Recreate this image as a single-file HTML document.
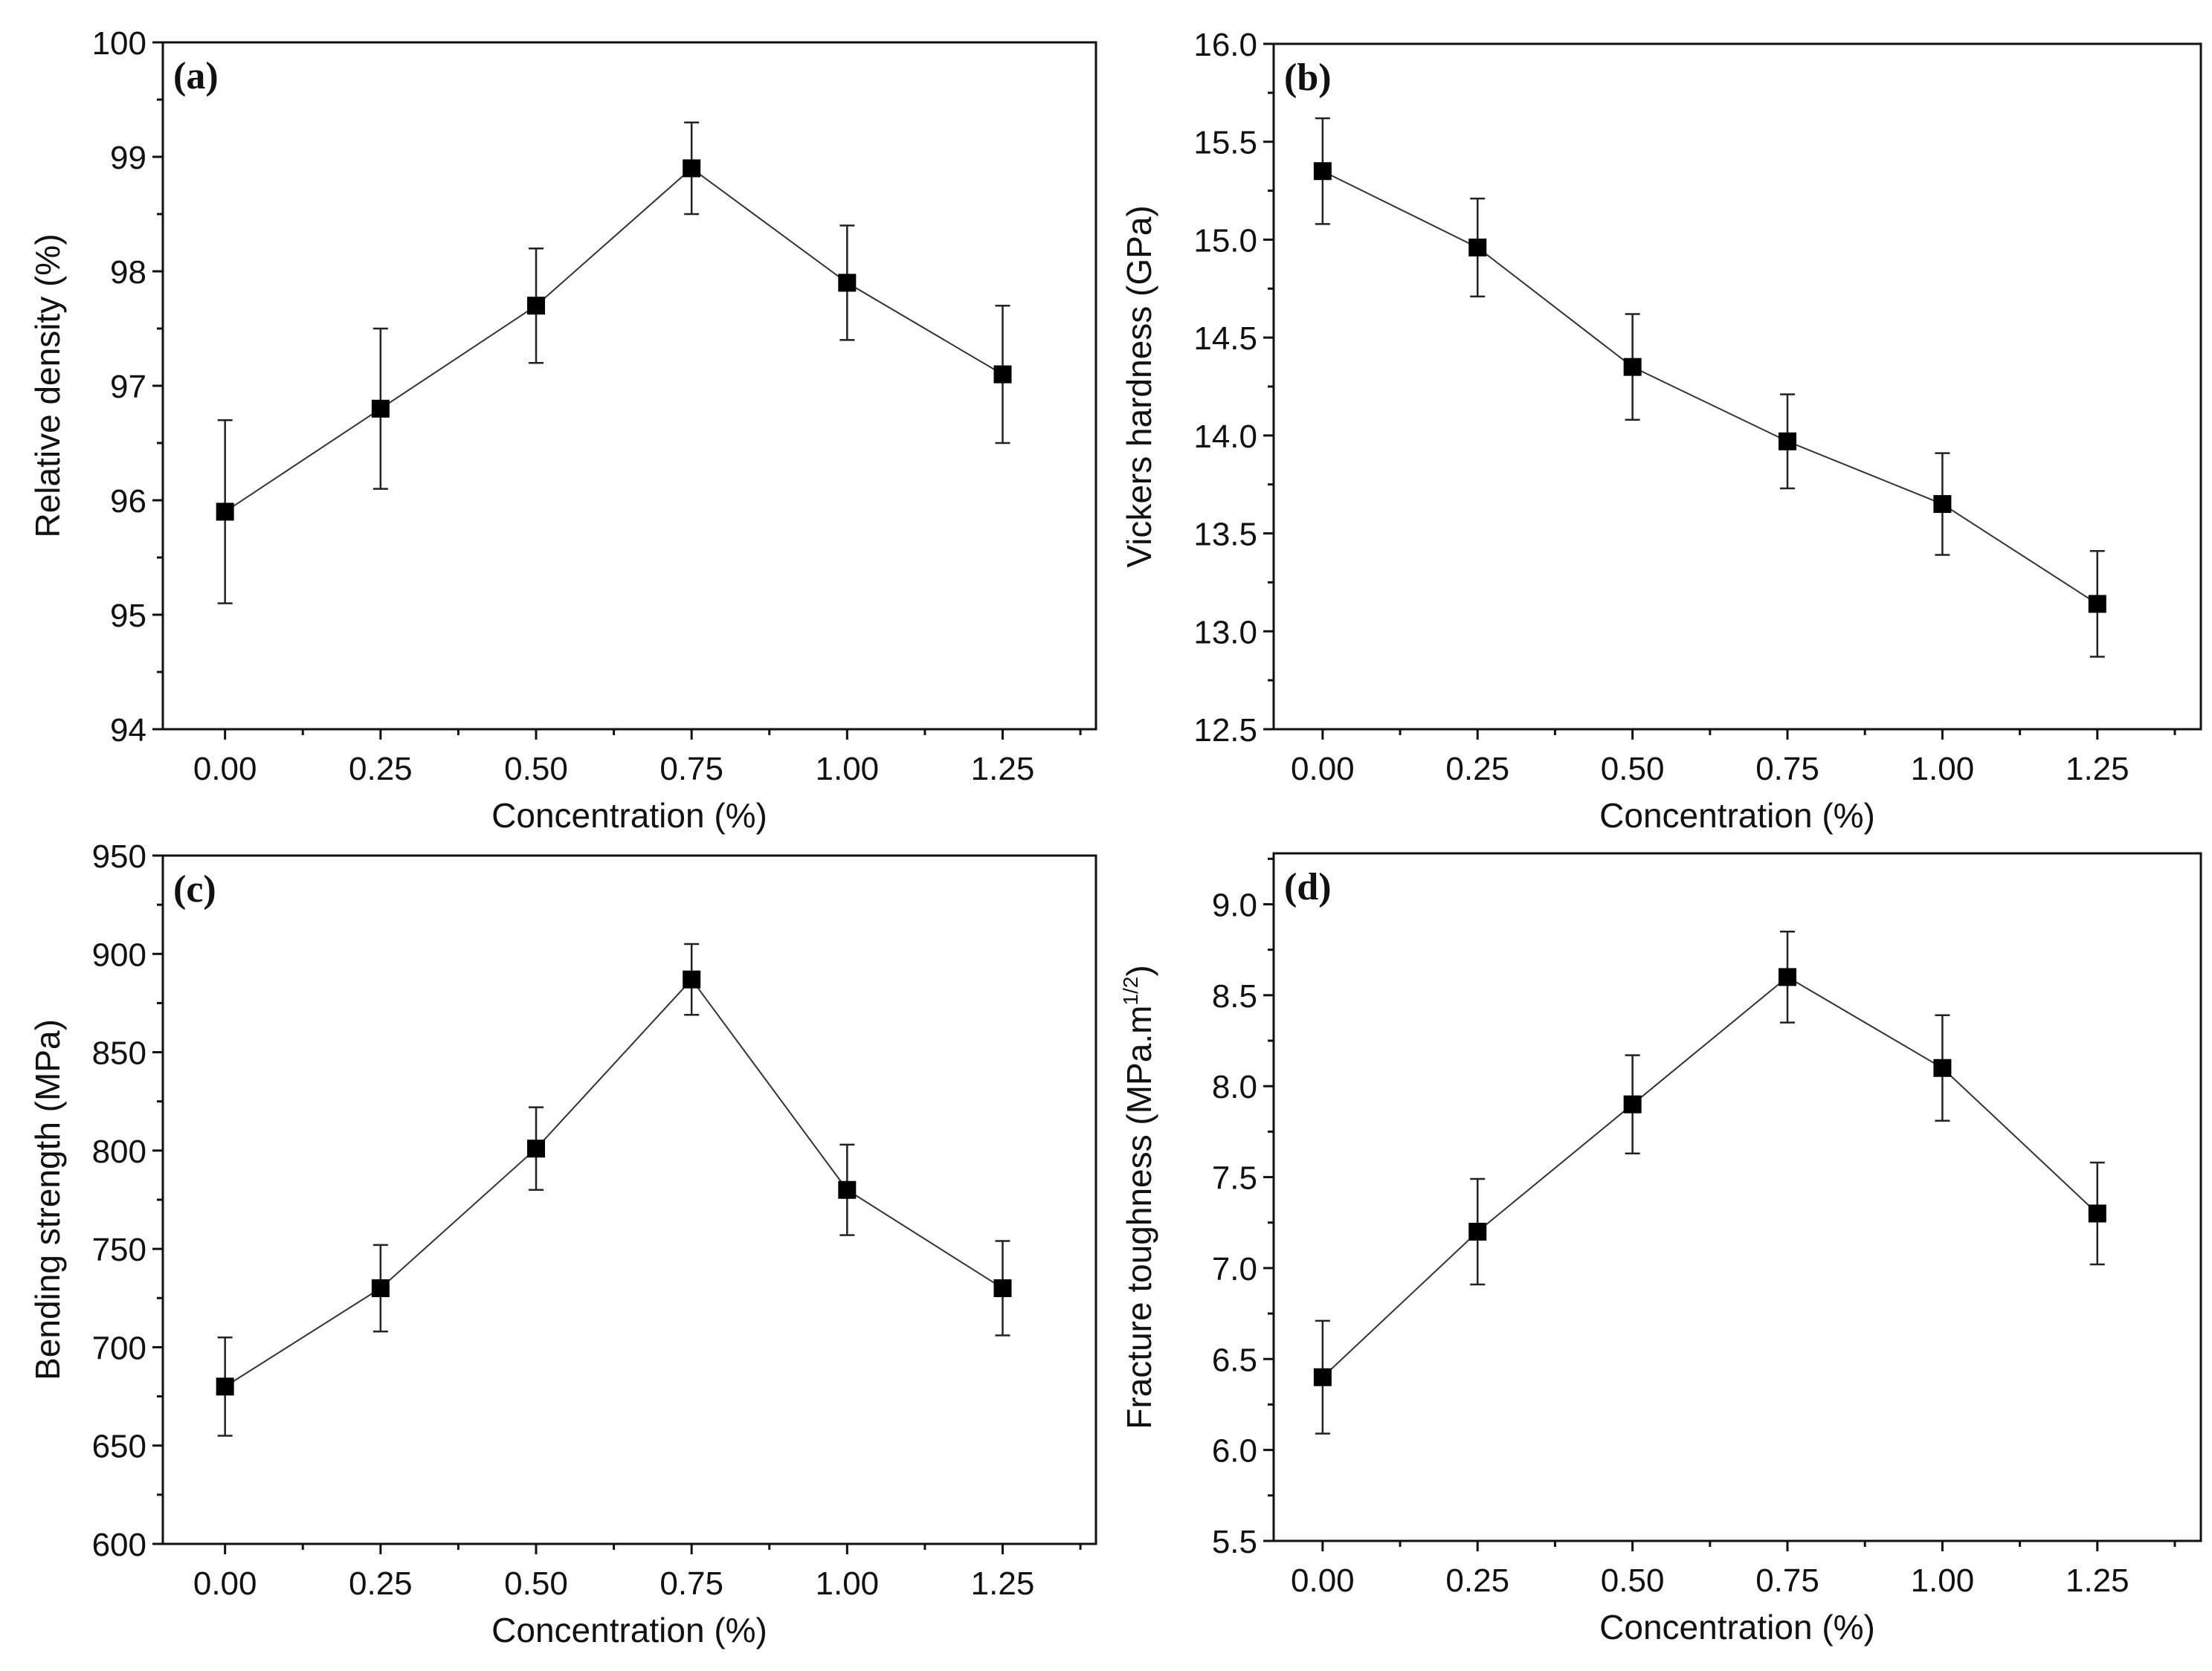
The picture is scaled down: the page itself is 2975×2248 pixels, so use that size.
<!DOCTYPE html>
<html><head><meta charset="utf-8"><style>
html,body{margin:0;padding:0;background:#fff}
svg{display:block}
text{font-family:"Liberation Sans",Arial,sans-serif;fill:#111}
</style></head><body>
<svg id="fig" width="2975" height="2248" viewBox="0 0 2975 2248" xmlns="http://www.w3.org/2000/svg"></svg>
<script>
const categories = [0, 0.25, 0.5, 0.75, 1.0, 1.25];
const xTickLabels = ["0.00","0.25","0.50","0.75","1.00","1.25"];
const densityValues = [95.9, 96.8, 97.7, 98.9, 97.9, 97.1];
const densityErrors = [0.8, 0.7, 0.5, 0.4, 0.5, 0.6];
const densityTicks = ["94","95","96","97","98","99","100"];
const hardnessValues = [15.35, 14.96, 14.35, 13.97, 13.65, 13.14];
const hardnessErrors = [0.27, 0.25, 0.27, 0.24, 0.26, 0.27];
const hardnessTicks = ["12.5","13.0","13.5","14.0","14.5","15.0","15.5","16.0"];
const strengthValues = [680, 730, 801, 887, 780, 730];
const strengthErrors = [25, 22, 21, 18, 23, 24];
const strengthTicks = ["600","650","700","750","800","850","900","950"];
const toughnessValues = [6.4, 7.2, 7.9, 8.6, 8.1, 7.3];
const toughnessErrors = [0.31, 0.29, 0.27, 0.25, 0.29, 0.28];
const toughnessTicks = ["5.5","6.0","6.5","7.0","7.5","8.0","8.5","9.0"];

const NS = "http://www.w3.org/2000/svg";
const svg = document.getElementById('fig');
function mk(tag, attrs, parent){
  const e = document.createElementNS(NS, tag);
  for (const k in attrs) e.setAttribute(k, attrs[k]);
  (parent||svg).appendChild(e);
  return e;
}

function panel(cfg){
  const g = mk('g', {});
  
  
  const L=cfg.left, R=cfg.right, T=cfg.top, B=cfg.bottom;
  const xmin=cfg.xmin, xmax=cfg.xmax;
  const X = v => L + (v - xmin) / (xmax - xmin) * (R - L);
  const Y = v => B - (v - cfg.ymin) / (cfg.ymax - cfg.ymin) * (B - T);
  const fr = mk('rect', {x:L, y:T, width:R-L, height:B-T, fill:'none', stroke:'#111', 'stroke-width':3}, g);
  
  
  for (let v = 0; v <= 1.375 + 1e-9; v += 0.125) {
    const major = Math.abs(v*4 - Math.round(v*4)) < 1e-6;
    mk('line', {x1:X(v), x2:X(v), y1:B, y2:B + (major?14:8), stroke:'#111','stroke-width':3}, g);
  }
  categories.forEach((c, i) => {
    const t = mk('text', {x:X(c), y:B+68, 'font-size':44, 'text-anchor':'middle'}, g);
    t.textContent = xTickLabels[i];
    
    
  });
  const xt = mk('text', {x:(L+R)/2, y:B+132, 'font-size':46, 'text-anchor':'middle'}, g);
  xt.textContent = 'Concentration (%)';
  
  
  const labels = cfg.ticks;
  const step = (parseFloat(labels[1]) - parseFloat(labels[0]));
  for (let v = cfg.ymin; v <= cfg.ymax + 1e-9; v += step/2) {
    const major = Math.abs(((v - parseFloat(labels[0]))/step) - Math.round((v - parseFloat(labels[0]))/step)) < 1e-6;
    mk('line', {x1:L - (major?14:8), x2:L, y1:Y(v), y2:Y(v), stroke:'#111','stroke-width':3}, g);
  }
  labels.forEach(s => {
    const t = mk('text', {x:L-22, y:Y(parseFloat(s))+16, 'font-size':44, 'text-anchor':'end'}, g);
    t.textContent = s;
    
    
  });
  const yt = mk('text', {x:0, y:0, 'font-size':46, 'text-anchor':'middle', transform:`translate(${cfg.ytx},${(T+B)/2}) rotate(-90)`}, g);
  yt.innerHTML = cfg.ytitle;
  
  
  const pl = mk('text', {x:L+14, y:T+62, 'font-size':52, 'font-weight':'bold', style:'font-family:"Liberation Serif",serif'}, g);
  pl.textContent = '(' + cfg.id + ')';
  
  
  const pts = categories.map((c,i)=>X(c)+','+Y(cfg.values[i])).join(' ');
  const ln = mk('polyline', {points:pts, fill:'none', stroke:'#333', 'stroke-width':2}, g);
  
  
  categories.forEach((c,i)=>{
    const x = X(c), v = cfg.values[i], e = cfg.errors[i];
    const eb = mk('path', {d:`M${x},${Y(v+e)}V${Y(v-e)}M${x-10},${Y(v+e)}H${x+10}M${x-10},${Y(v-e)}H${x+10}`, stroke:'#222','stroke-width':2.5, fill:'none'}, g);
    
    
    const m = mk('rect', {x:x-12, y:Y(v)-12, width:24, height:24, fill:'#000'}, g);
    
    
  });
}

panel({id:'a', left:219, right:1474, top:57, bottom:981, xmin:-0.1, xmax:1.4, ymin:94, ymax:100, ticks:densityTicks, values:densityValues, errors:densityErrors, ytx:80, ytitle:'Relative density (%)'});
panel({id:'b', left:1713, right:2960, top:59, bottom:981, xmin:-0.079, xmax:1.417, ymin:12.5, ymax:16.0, ticks:hardnessTicks, values:hardnessValues, errors:hardnessErrors, ytx:1548, ytitle:'Vickers hardness (GPa)'});
panel({id:'c', left:219, right:1474, top:1151, bottom:2077, xmin:-0.1, xmax:1.4, ymin:600, ymax:950, ticks:strengthTicks, values:strengthValues, errors:strengthErrors, ytx:80, ytitle:'Bending strength (MPa)'});
panel({id:'d', left:1713, right:2960, top:1148, bottom:2073, xmin:-0.079, xmax:1.417, ymin:5.5, ymax:9.28, ticks:toughnessTicks, values:toughnessValues, errors:toughnessErrors, ytx:1548, ytitle:'Fracture toughness (MPa.m<tspan dy="-18" font-size="28">1/2</tspan><tspan dy="18">)</tspan>'});
</script>
</body></html>
